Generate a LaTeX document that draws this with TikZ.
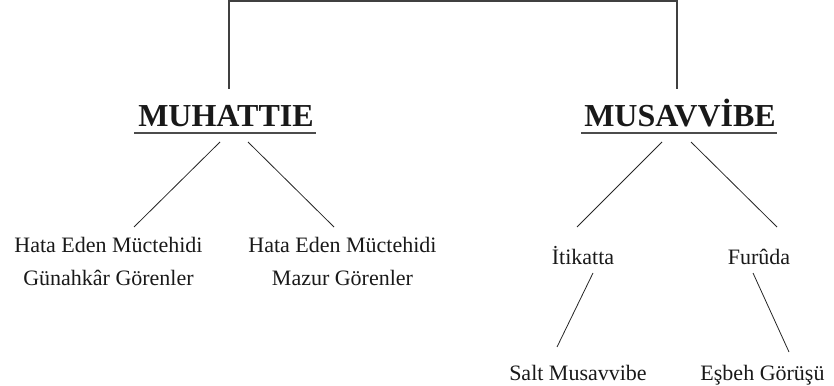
\documentclass[tikz,border=0pt]{standalone}
\usepackage{fontspec}
\setmainfont{Liberation Serif}
\usetikzlibrary{calc}
\begin{document}
\begin{tikzpicture}[x=1pt,y=1pt,
  heading/.style={inner sep=0pt, anchor=base, font=\fontsize{32}{34}\selectfont\bfseries, text=black!90},
  leaf/.style={inner sep=0pt, font=\fontsize{22}{33}\selectfont, text=black!90, align=center},
  branch/.style={draw=black!85, line width=0.8pt},
  topline/.style={draw=black!75, line width=1.5pt},
  underl/.style={draw=black!70, line width=1.5pt}]
\useasboundingbox (0,0) rectangle (834,385);
% headings
\node[heading] (muh) at (226,258) {MUHATTIE};
\node[heading] (mus) at (680,258) {MUSAVVİBE};
\draw[underl] ($(muh.base west)+(-4,-6)$) -- ($(muh.base east)+(2,-6)$);
\draw[underl] ($(mus.base west)+(-3,-6)$) -- ($(mus.base east)+(1,-6)$);
% top connector
\coordinate (muhtop) at ($(muh.base)+(3,38)$);
\coordinate (mustop) at ($(mus.base)+(-3,38)$);
\draw[topline] (muhtop) -- ++(0,88) -| (mustop);
% leaves
\node[leaf] (c1) at (108.5,124) {Hata Eden Müctehidi\\Günahkâr Görenler};
\node[leaf] (c2) at (342.5,124) {Hata Eden Müctehidi\\Mazur Görenler};
\node[leaf, anchor=base] (i1) at (583,120) {İtikatta};
\node[leaf, anchor=base] (f1) at (759,120) {Furûda};
\node[leaf, anchor=base] (s1) at (578,5) {Salt Musavvibe};
\node[leaf, anchor=base] (e1) at (762.5,5) {Eşbeh Görüşü};
% branches
\draw[branch] ($(muh.base)+(-6,-15)$) -- ($(c1.center)+(25.5,34)$);
\draw[branch] ($(muh.base)+(22,-15)$) -- ($(c2.center)+(-8.5,34)$);
\draw[branch] ($(mus.base)+(-18,-15)$) -- ($(i1.base)+(-6,38)$);
\draw[branch] ($(mus.base)+(11,-15)$) -- ($(f1.base)+(18,38)$);
\draw[branch] ($(i1.base)+(10,-8)$) -- ($(s1.base)+(-21,33)$);
\draw[branch] ($(f1.base)+(-6,-8)$) -- ($(e1.base)+(26.5,28)$);
\end{tikzpicture}
\end{document}
